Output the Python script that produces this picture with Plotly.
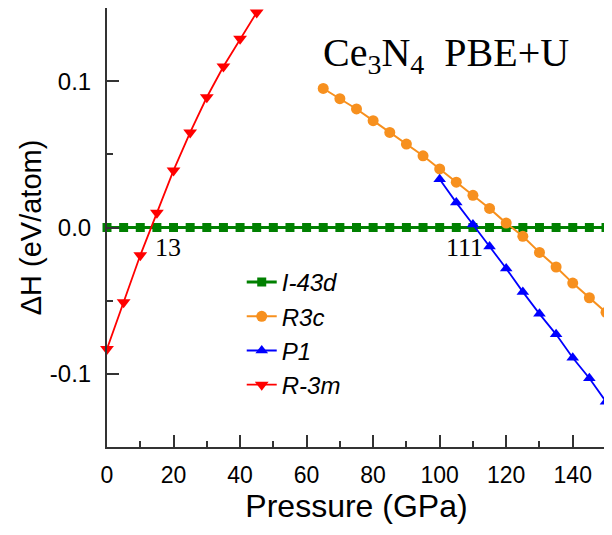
import plotly.graph_objects as go

# ---- data ----
p_i43d = [0, 5, 10, 15, 20, 25, 30, 35, 40, 45, 50, 55, 60, 65, 70, 75,
          80, 85, 90, 95, 100, 105, 110, 115, 120, 125, 130, 135, 140, 145, 150]
h_i43d = [0.0, 0.0, 0.0, 0.0, 0.0, 0.0, 0.0, 0.0, 0.0, 0.0, 0.0, 0.0, 0.0, 0.0, 0.0, 0.0,
          0.0, 0.0, 0.0, 0.0, 0.0, 0.0, 0.0, 0.0, 0.0, 0.0, 0.0, 0.0, 0.0, 0.0, 0.0]

p_r3c = [65, 70, 75, 80, 85, 90, 95, 100, 105, 110, 115, 120, 125, 130, 135, 140, 145, 150]
h_r3c = [0.095, 0.088, 0.081, 0.073, 0.065, 0.057, 0.049, 0.040, 0.031, 0.022,
         0.013, 0.003, -0.006, -0.017, -0.027, -0.038, -0.048, -0.058]

p_p1 = [100, 105, 110, 115, 120, 125, 130, 135, 140, 145, 150]
h_p1 = [0.033, 0.017, 0.002, -0.013, -0.028, -0.044, -0.059, -0.073, -0.089, -0.103, -0.119]

p_r3m = [0, 5, 10, 15, 20, 25, 30, 35, 40, 45]
h_r3m = [-0.083, -0.051, -0.019, 0.010, 0.039, 0.065, 0.089, 0.110, 0.129, 0.147]

y_tickvals = [-0.1, 0.0, 0.1]
y_ticktext = ["-0.1", "0.0", "0.1"]

names = ["I-43d", "R3c", "P1", "R-3m"]
transitions = [13, 111]
title_text = "Ce<sub>3</sub>N<sub>4</sub>  PBE+U"

SANS = "Liberation Sans, Arial, sans-serif"
SERIF = "Liberation Serif, Times New Roman, serif"

fig = go.Figure()
fig.add_trace(go.Scatter(x=p_i43d, y=h_i43d, name=names[0], mode="lines+markers",
                         line=dict(color="#008000", width=3),
                         marker=dict(symbol="square", size=9, color="#008000"),
                         cliponaxis=False))
fig.add_trace(go.Scatter(x=p_r3c, y=h_r3c, name=names[1], mode="lines+markers",
                         line=dict(color="#F7901E", width=2),
                         marker=dict(symbol="circle", size=11, color="#F7901E"),
                         cliponaxis=False))
fig.add_trace(go.Scatter(x=p_p1, y=h_p1, name=names[2], mode="lines+markers",
                         line=dict(color="#0000FF", width=1.8),
                         marker=dict(symbol="triangle-up", size=11, color="#0000FF"),
                         cliponaxis=False))
fig.add_trace(go.Scatter(x=p_r3m, y=h_r3m, name=names[3], mode="lines+markers",
                         line=dict(color="#FF0000", width=1.8),
                         marker=dict(symbol="triangle-down", size=12, color="#FF0000"),
                         cliponaxis=False))

fig.add_annotation(x=transitions[0], y=0, text=str(transitions[0]), showarrow=False,
                   xanchor="left", yanchor="top", xshift=3, yshift=-3,
                   font=dict(family=SERIF, size=26, color="black"))
fig.add_annotation(x=transitions[1], y=0, text=str(transitions[1]), showarrow=False,
                   xanchor="right", yanchor="top", xshift=9, yshift=-3,
                   font=dict(family=SERIF, size=26, color="black"))
fig.add_annotation(x=0.679, y=0.893, xref="paper", yref="paper", text=title_text,
                   showarrow=False, xanchor="center", yanchor="middle",
                   font=dict(family=SERIF, size=40, color="black"))

axis_common = dict(showgrid=False, zeroline=False, showline=True, linewidth=2,
                   linecolor="#333333", mirror=True, ticks="inside", ticklen=12,
                   tickwidth=1.5, tickcolor="#333333", automargin=False)

fig.update_xaxes(range=[0, 150], tick0=0, dtick=20,
                 minor=dict(dtick=10, ticks="inside", ticklen=6, tickwidth=1.5,
                            tickcolor="#333333"),
                 tickfont=dict(family=SANS, size=23, color="black"),
                 ticklabelstandoff=6,
                 title=dict(text="Pressure (GPa)", font=dict(family=SANS, size=32, color="black"),
                            standoff=5),
                 **axis_common)
fig.update_yaxes(range=[-0.15, 0.15], tickmode="array", tickvals=y_tickvals,
                 ticktext=y_ticktext,
                 minor=dict(tickmode="array", tickvals=[-0.05, 0.05], ticks="inside",
                            ticklen=6, tickwidth=1.5, tickcolor="#333333"),
                 tickfont=dict(family=SANS, size=24, color="black"),
                 ticklabelstandoff=9,
                 title=dict(text="ΔH (eV/atom)", font=dict(family=SANS, size=29, color="black"),
                            standoff=0),
                 **axis_common)

fig.update_layout(
    width=612, height=535,
    margin=dict(l=99, r=14, t=0, b=96),
    paper_bgcolor="white", plot_bgcolor="white",
    showlegend=True,
    legend=dict(x=0.27, y=0.426, xanchor="left", yanchor="top",
                bgcolor="rgba(0,0,0,0)", borderwidth=0,
                font=dict(family=SANS, size=24, color="black", style="italic"),
                tracegroupgap=0),
)

fig.write_html("out.html")
